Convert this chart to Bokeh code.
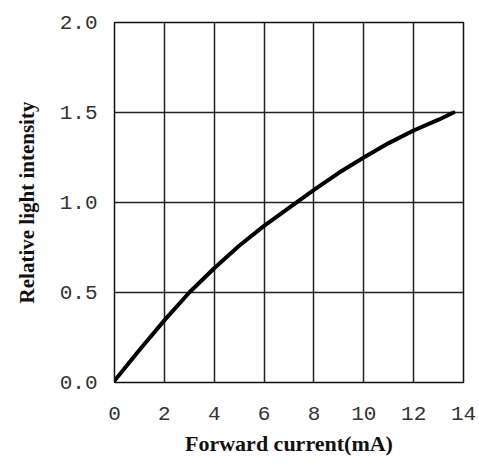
from bokeh.plotting import figure
from bokeh.models import Range1d, FixedTicker
from bokeh.embed import file_html
from bokeh.resources import INLINE

# Data
forward_current = [0, 1, 2, 3, 4, 5, 6, 7, 8, 9, 10, 11, 12, 13, 13.6]
relative_intensity = [0.01, 0.18, 0.345, 0.50, 0.635, 0.76, 0.87, 0.97, 1.07, 1.165, 1.25, 1.33, 1.40, 1.46, 1.50]

x_ticks = [0, 2, 4, 6, 8, 10, 12, 14]
x_tick_labels = ["0", "2", "4", "6", "8", "10", "12", "14"]
y_ticks = [0.0, 0.5, 1.0, 1.5, 2.0]
y_tick_labels = ["0.0", "0.5", "1.0", "1.5", "2.0"]

x_title = "Forward current(mA)"
y_title = "Relative light intensity"

p = figure(width=479, height=464, output_backend="svg", toolbar_location=None,
           x_range=Range1d(0, 14), y_range=Range1d(0, 2),
           min_border_left=114, min_border_right=16, min_border_top=22, min_border_bottom=82)

p.line(forward_current, relative_intensity, line_color="black", line_width=4,
       line_join="round", line_cap="round")

p.outline_line_color = "#111111"
p.outline_line_width = 1.5

for ax in (p.xaxis[0], p.yaxis[0]):
    ax.axis_line_color = None
    ax.major_tick_line_color = None
    ax.minor_tick_line_color = None
    ax.major_tick_in = 0
    ax.major_tick_out = 0
    ax.minor_tick_out = 0
    ax.major_label_text_font = "Liberation Mono"
    ax.major_label_text_font_size = "21px"
    ax.major_label_text_color = "#333333"
    ax.axis_label_text_font = "Liberation Serif"
    ax.axis_label_text_font_style = "bold"
    ax.axis_label_text_color = "#111111"

p.xaxis[0].ticker = FixedTicker(ticks=x_ticks)
p.xaxis[0].major_label_overrides = {t: l for t, l in zip(x_ticks, x_tick_labels)}
p.yaxis[0].ticker = FixedTicker(ticks=y_ticks)
p.yaxis[0].major_label_overrides = {t: l for t, l in zip(y_ticks, y_tick_labels)}

p.xaxis[0].axis_label = x_title
p.xaxis[0].axis_label_text_font_size = "22px"
p.xaxis[0].major_label_standoff = 24
p.xaxis[0].axis_label_standoff = 8

p.yaxis[0].axis_label = y_title
p.yaxis[0].axis_label_text_font_size = "21px"
p.yaxis[0].major_label_standoff = 17
p.yaxis[0].axis_label_standoff = 18

p.xgrid.grid_line_color = "#222222"
p.xgrid.grid_line_width = 1.5
p.ygrid.grid_line_color = "#222222"
p.ygrid.grid_line_width = 1.5

open("out.html", "w").write(file_html(p, INLINE))
